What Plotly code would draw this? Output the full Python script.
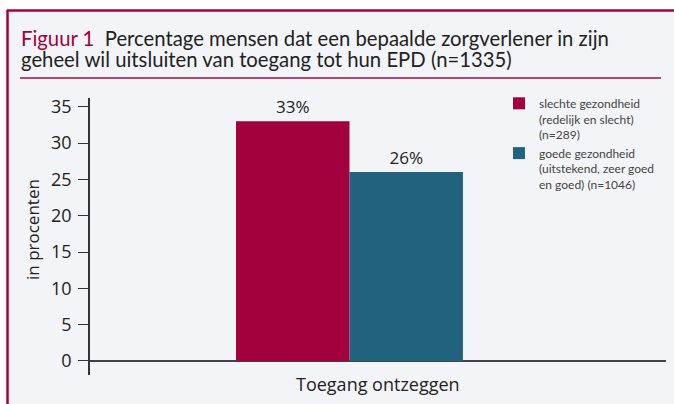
import plotly.graph_objects as go

# ---- data ----
category = ["Toegang ontzeggen"]
series_names = [
    "slechte gezondheid<br>(redelijk en slecht)<br>(n=289)",
    "goede gezondheid<br>(uitstekend, zeer goed<br>en goed) (n=1046)",
]
series_values = [[33], [26]]
series_colors = ["#A3003E", "#21637E"]
y_ticks = [0, 5, 10, 15, 20, 25, 30, 35]

W, H = 674, 404
L, R, T, B = 90, 8, 98, 29
PW, PH = W - L - R, H - T - B


def px(x):
    return (x - L) / PW


def py(y):
    return (H - B - y) / PH


fig = go.Figure()
for name, vals, col in zip(series_names, series_values, series_colors):
    fig.add_trace(go.Bar(
        x=category, y=vals, name=name, marker_color=col, marker_line_width=0,
        text=[f"{v}%" for v in vals], textposition="outside",
        textfont=dict(family="Open Sans", size=17, color="#222222"),
        cliponaxis=False,
    ))

crimson = "#A3003E"
shapes = [
    dict(type="rect", xref="paper", yref="paper", x0=px(7), x1=px(W + 5), y0=py(10), y1=py(H + 5),
         fillcolor="#F2F4F7", line_width=0, layer="below"),
    dict(type="line", xref="paper", yref="paper", x0=px(7), x1=px(W + 5), y0=py(10.5), y1=py(10.5),
         line=dict(color=crimson, width=2.5)),
    dict(type="line", xref="paper", yref="paper", x0=px(7.5), x1=px(7.5), y0=py(10), y1=py(H + 5),
         line=dict(color=crimson, width=2.5)),
    dict(type="line", xref="paper", yref="paper", x0=px(20), x1=px(661), y0=py(78), y1=py(78),
         line=dict(color="#B8476F", width=1.8)),
]

annotations = [
    dict(xref="paper", yref="paper", x=px(19), y=py(37.5), xanchor="left", yanchor="middle",
         showarrow=False, align="left",
         text="<span style='color:#A3003E'>Figuur 1</span>  Percentage mensen dat een bepaalde zorgverlener in zijn",
         font=dict(family="Lato", size=20.3, color="#222222")),
    dict(xref="paper", yref="paper", x=px(19), y=py(59), xanchor="left", yanchor="middle",
         showarrow=False, align="left",
         text="geheel wil uitsluiten van toegang tot hun EPD (n=1335)",
         font=dict(family="Lato", size=20.3, color="#222222")),
    dict(xref="paper", yref="paper", x=px(32), y=py(230), xanchor="center", yanchor="middle",
         showarrow=False, textangle=-90, text="in procenten",
         font=dict(family="Open Sans", size=17, color="#222222")),
    dict(xref="paper", yref="paper", x=px(378), y=py(384), xanchor="center", yanchor="middle",
         showarrow=False, text=category[0],
         font=dict(family="Open Sans", size=18, color="#222222")),
]

fig.update_layout(
    width=W, height=H,
    margin=dict(l=L, r=R, t=T, b=B, pad=0),
    paper_bgcolor="white", plot_bgcolor="rgba(0,0,0,0)",
    barmode="group", bargap=0.606, bargroupgap=0,
    showlegend=True,
    legend=dict(x=px(499), y=py(89), xanchor="left", yanchor="top", valign="top",
                bgcolor="rgba(0,0,0,0)", tracegroupgap=0, itemwidth=30,
                font=dict(family="Lato", size=12, color="#444444")),
    xaxis=dict(range=[-0.4505, 0.5495], showticklabels=False, showgrid=False,
               zeroline=False, showline=False, ticks=""),
    yaxis=dict(range=[-1.93, 36.2], tickvals=y_ticks, showgrid=False,
               showline=True, linecolor="#333333", linewidth=1.5,
               ticks="outside", ticklen=10, tickcolor="#333333", tickwidth=1.2,
               ticklabelstandoff=3,
               zeroline=True, zerolinecolor="#444444", zerolinewidth=2,
               tickfont=dict(family="Open Sans", size=18, color="#222222")),
    shapes=shapes, annotations=annotations,
)

fig.write_html("out.html", config={"displayModeBar": False},
               post_script="document.body.style.margin='0';document.body.style.overflow='hidden';")
